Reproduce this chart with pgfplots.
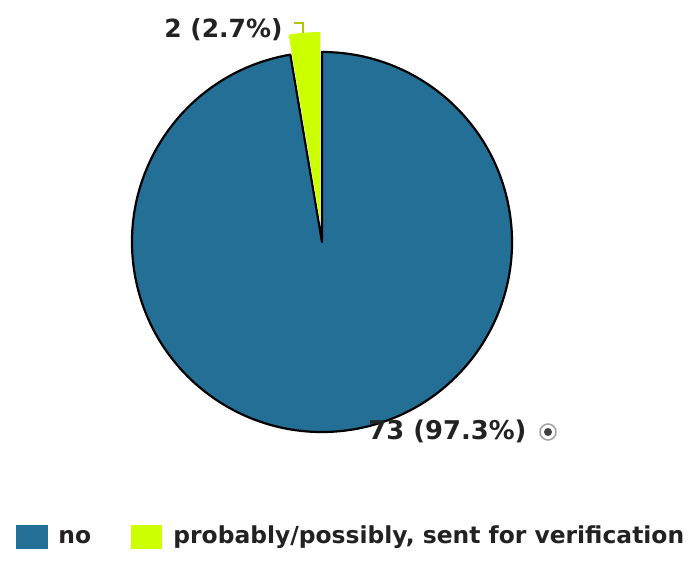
\documentclass[border=0pt]{standalone}
\usepackage{fontspec}
\setmainfont{DejaVu Sans}
\usepackage{pgfplots}
\usepackage{pgfplotstable}
\pgfplotsset{compat=1.18}
\definecolor{pieblue}{HTML}{246F96}
\definecolor{pieyellow}{HTML}{CCFF00}
\definecolor{leader}{HTML}{B5C400}
\definecolor{txt}{HTML}{222222}

\pgfplotstableread{
label value
no 73
probably 2
}\piedata

\begin{document}
\begin{tikzpicture}
\pgfplotstablegetelem{0}{value}\of\piedata \let\vA\pgfplotsretval
\pgfplotstablegetelem{1}{value}\of\piedata \let\vB\pgfplotsretval
\pgfmathsetmacro\tot{\vA+\vB}
\pgfmathsetmacro\angB{360*\vB/\tot}
\pgfmathsetmacro\endB{90+\angB}
\pgfmathsetmacro\midB{90+\angB/2}
\pgfmathsetmacro\ex{322+20*cos(\midB)}
\pgfmathsetmacro\ey{321+20*sin(\midB)}
\pgfmathsetmacro\endA{450}
\begin{axis}[at={(0,0)},anchor=south west,x=0.5pt,y=0.5pt,
  xmin=0,xmax=690,ymin=0,ymax=563,hide axis,clip=false]
\filldraw[fill=pieblue,draw=black,line width=1.1pt,line join=round]
  (axis cs:322,321) -- ++(\endB:95pt) arc[start angle=\endB,end angle=\endA,radius=95pt] -- cycle;
\fill[pieyellow] (axis cs:\ex,\ey) -- ++(90:95pt) arc[start angle=90,end angle=\endB,radius=95pt] -- cycle;
\draw[leader,line width=0.8pt] (axis cs:294,540) -- (axis cs:303,540) -- (axis cs:303,530);
\node[anchor=east,inner sep=0pt,text=txt,font=\fontsize{12.5}{14}\selectfont\bfseries] at (axis cs:283,533) {2 (2.7\%)};
\node[anchor=west,inner sep=0pt,text=txt,font=\fontsize{12.9}{14}\selectfont\bfseries] at (axis cs:368,132) {73 (97.3\%)};
\draw[black!35,fill=white,line width=0.8pt] (axis cs:548,131) circle[radius=4pt];
\fill[black!75] (axis cs:548,131) circle[radius=2pt];
% legend
\fill[pieblue] (axis cs:16,14) rectangle (axis cs:48,38);
\node[anchor=west,inner sep=0pt,text=txt,font=\fontsize{11.7}{13}\selectfont\bfseries] at (axis cs:58,26) {no};
\fill[pieyellow] (axis cs:131,14) rectangle (axis cs:162,38);
\node[anchor=west,inner sep=0pt,text=txt,font=\fontsize{11.7}{13}\selectfont\bfseries] at (axis cs:173,26) {probably/possibly, sent for verification};
\end{axis}
\pgfresetboundingbox
\path (0,0) rectangle (345pt,281.5pt);
\end{tikzpicture}
\end{document}
